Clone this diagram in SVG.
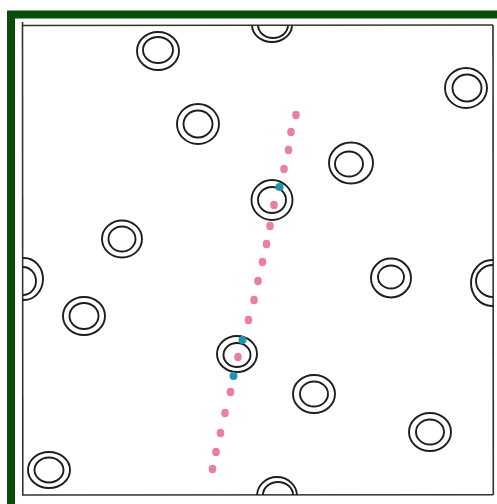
<svg xmlns="http://www.w3.org/2000/svg" width="497" height="504" viewBox="0 0 497 504">
  <defs>
    <style>
      .ring { fill: none; stroke: #1e1e1e; stroke-width: 1.9; }
      .pink { fill: #e8738f; opacity: 0.9; }
      .cyan { fill: #1a98ad; }
    </style>
    <clipPath id="inside">
      <rect x="22.5" y="25.5" width="470.5" height="469.5"/>
    </clipPath>
  </defs>
  <rect x="0" y="0" width="497" height="504" fill="#ffffff"/>
  <!-- green frame -->
  <rect x="11" y="14.5" width="500" height="500" fill="none" stroke="#0a4d0a" stroke-width="8"/>
  <!-- inner drawn border -->
  <g id="border" fill="none" stroke="#333" stroke-width="1.6">
    <path d="M22.5 22 L22.8 495.5"/>
    <path d="M22.5 25.5 L493 25"/>
    <path d="M493 25 L493.3 495"/>
    <path d="M22.5 495 L493.3 494.8"/>
  </g>
  <g id="rings" clip-path="url(#inside)">
    <g id="ring1"><ellipse class="ring" cx="158" cy="51" rx="21" ry="19"/><ellipse class="ring" cx="158" cy="50" rx="15" ry="13"/></g>
    <g id="ring2"><ellipse class="ring" cx="272" cy="25" rx="20" ry="17"/><ellipse class="ring" cx="273" cy="25" rx="15" ry="13"/></g>
    <g id="ring3"><ellipse class="ring" cx="466" cy="88" rx="21" ry="20"/><ellipse class="ring" cx="467" cy="88" rx="14.5" ry="13.5"/></g>
    <g id="ring4"><ellipse class="ring" cx="198" cy="124" rx="21" ry="20"/><ellipse class="ring" cx="198" cy="124" rx="14.5" ry="13.5"/></g>
    <g id="ring5"><ellipse class="ring" cx="351" cy="163" rx="22" ry="20.5"/><ellipse class="ring" cx="349" cy="164" rx="14" ry="12.5"/></g>
    <g id="ring6"><ellipse class="ring" cx="272" cy="200" rx="20.5" ry="20"/><ellipse class="ring" cx="272" cy="200" rx="14" ry="13"/></g>
    <g id="ring7"><ellipse class="ring" cx="122" cy="239" rx="20" ry="18.5"/><ellipse class="ring" cx="122" cy="239" rx="13.5" ry="12.5"/></g>
    <g id="ring8"><ellipse class="ring" cx="391" cy="278" rx="20" ry="19.5"/><ellipse class="ring" cx="391" cy="277" rx="13" ry="11.5"/></g>
    <g id="ring9"><ellipse class="ring" cx="24" cy="279" rx="19" ry="21"/><ellipse class="ring" cx="23" cy="281" rx="13" ry="14"/></g>
    <g id="ring10"><ellipse class="ring" cx="492" cy="283" rx="21" ry="23"/><ellipse class="ring" cx="493" cy="281" rx="17" ry="16"/></g>
    <g id="ring11"><ellipse class="ring" cx="84" cy="316" rx="21" ry="19"/><ellipse class="ring" cx="84" cy="316" rx="14.5" ry="13"/></g>
    <g id="ring12"><ellipse class="ring" cx="237" cy="354" rx="20" ry="18"/><ellipse class="ring" cx="237" cy="355" rx="13.5" ry="12"/></g>
    <g id="ring13"><ellipse class="ring" cx="314" cy="394" rx="21" ry="19"/><ellipse class="ring" cx="314" cy="394" rx="14" ry="12.5"/></g>
    <g id="ring14"><ellipse class="ring" cx="430" cy="432" rx="21" ry="19"/><ellipse class="ring" cx="430" cy="432" rx="14" ry="12.5"/></g>
    <g id="ring15"><ellipse class="ring" cx="49" cy="470" rx="21" ry="18"/><ellipse class="ring" cx="49" cy="470" rx="14.5" ry="12.5"/></g>
    <g id="ring16"><ellipse class="ring" cx="277" cy="496" rx="20" ry="19"/><ellipse class="ring" cx="278" cy="495" rx="15" ry="13"/></g>
  </g>
  <g id="dots">
    <ellipse class="pink" cx="296" cy="115" rx="3.8" ry="4.2"/>
    <ellipse class="pink" cx="291" cy="132" rx="3.8" ry="4.2"/>
    <ellipse class="pink" cx="288.5" cy="150" rx="3.8" ry="4.2"/>
    <ellipse class="pink" cx="284" cy="169" rx="3.8" ry="4.2"/>
    <ellipse class="cyan" cx="279.5" cy="187" rx="4" ry="4"/>
    <ellipse class="pink" cx="274" cy="205" rx="3.8" ry="4.2"/>
    <ellipse class="pink" cx="270" cy="226" rx="3.8" ry="4.2"/>
    <ellipse class="pink" cx="266.5" cy="244" rx="3.8" ry="4.2"/>
    <ellipse class="pink" cx="262.5" cy="262" rx="3.8" ry="4.2"/>
    <ellipse class="pink" cx="258" cy="281" rx="3.8" ry="4.2"/>
    <ellipse class="pink" cx="254" cy="300" rx="3.8" ry="4.2"/>
    <ellipse class="pink" cx="248.5" cy="320" rx="3.8" ry="4.2"/>
    <ellipse class="cyan" cx="242.5" cy="340" rx="4" ry="4"/>
    <ellipse class="pink" cx="238" cy="357" rx="3.8" ry="4.2"/>
    <ellipse class="cyan" cx="233.5" cy="376" rx="4" ry="4"/>
    <ellipse class="pink" cx="230.5" cy="392" rx="3.8" ry="4.2"/>
    <ellipse class="pink" cx="225" cy="413" rx="3.8" ry="4.2"/>
    <ellipse class="pink" cx="220.5" cy="433" rx="3.8" ry="4.2"/>
    <ellipse class="pink" cx="216" cy="452" rx="3.8" ry="4.2"/>
    <ellipse class="pink" cx="212.5" cy="469" rx="3.8" ry="4.2"/>
  </g>
</svg>
